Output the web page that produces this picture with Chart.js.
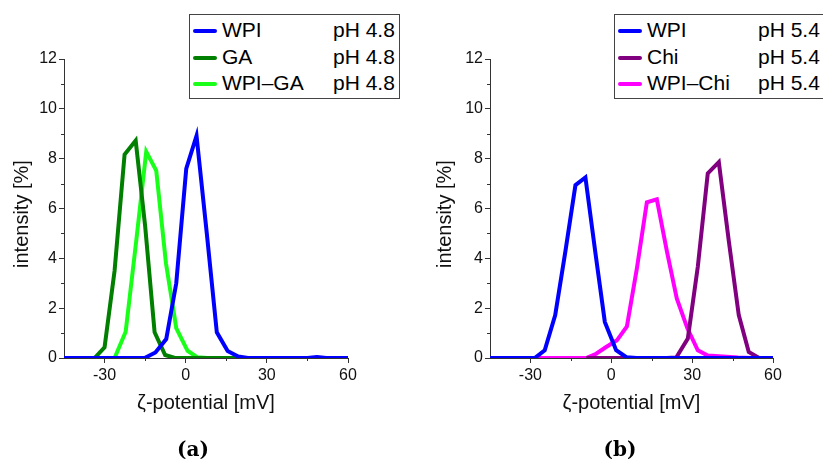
<!DOCTYPE html>
<html>
<head>
<meta charset="utf-8">
<script src="https://cdn.jsdelivr.net/npm/chart.js@4"></script>
<style>
    body { margin: 0; background: #fff; overflow: hidden; }
    #page { position: relative; width: 823px; height: 459px; overflow: hidden; font-family: "Liberation Sans", Arial, sans-serif; }
    canvas { position: absolute; top: 0; }
    .legend { position: absolute; top: 14px; width: 209px; height: 81px; border: 1px solid #444; background: #fff; padding-top: 2px; box-sizing: content-box; }
    .row { position: relative; height: 26.5px; line-height: 26.5px; font-size: 21px; color: #000; }
    .row .swatch { position: absolute; left: 3px; top: 12px; width: 24px; height: 4px; border-radius: 2px; }
    .row .name { position: absolute; left: 32px; }
    .row .ph { position: absolute; left: 143px; }
    .caption { position: absolute; top: 437px; width: 80px; text-align: center; font-family: "DejaVu Serif", serif; font-weight: bold; font-size: 20px; color: #000; }
</style>
</head>
<body>
<div id="page">
    <canvas id="chartA" width="410" height="459" style="left:0px"></canvas>
    <canvas id="chartB" width="413" height="459" style="left:410px"></canvas>
    <div class="legend" id="legendA" style="left:189px"></div>
    <div class="legend" id="legendB" style="left:614px"></div>
    <div class="caption" style="left:153px">(a)</div>
    <div class="caption" style="left:580px">(b)</div>
</div>
<script>

// tick values shared by both panels
var xTicks = [-30, 0, 30, 60];
var yTicks = [0, 2, 4, 6, 8, 10, 12];
var xMinor = [-15, 15, 45];
var yMinor = [1, 3, 5, 7, 9, 11];

// panel (a), pH 4.8
var wpiA_x = [-45, -15.2, -11.2, -7.2, -3.5, 0.2, 4.0, 7.8, 11.5, 15.5, 19.4, 23, 45, 48.5, 52, 60];
var wpiA_y = [0, 0, 0.22, 0.76, 3.0, 7.6, 8.92, 5.0, 1.03, 0.28, 0.06, 0, 0, 0.04, 0, 0];
var gaA_x = [-33.7, -30, -26.3, -22.6, -18.5, -15, -11.5, -7.6, -4, 20];
var gaA_y = [0, 0.43, 3.5, 8.17, 8.73, 5.3, 1.03, 0.12, 0, 0];
var wpigaA_x = [-26.3, -22.2, -18.4, -14.6, -10.9, -7.3, -3.5, 0.7, 4.2, 8];
var wpigaA_y = [0, 1.05, 4.6, 8.28, 7.52, 3.8, 1.2, 0.29, 0.03, 0];

// panel (b), pH 5.4
var wpiB_x = [-45, -28.4, -24.7, -20.8, -17.0, -13.3, -9.6, -6.0, -2.4, 1.8, 5.6, 9.4, 60];
var wpiB_y = [0, 0, 0.31, 1.72, 4.3, 6.94, 7.25, 4.3, 1.45, 0.31, 0.03, 0, 0];
var chiB_x = [-9.3, 20.4, 24.1, 28.4, 32.1, 35.8, 39.9, 43.6, 47.3, 51.0, 54.7];
var chiB_y = [0, 0, 0.02, 0.78, 3.66, 7.41, 7.86, 4.7, 1.72, 0.24, 0.01];
var wpichiB_x = [-27.2, -9.3, -5.6, -1.9, 2.1, 5.8, 9.5, 13.2, 16.9, 20.6, 24.3, 28.2, 32.1, 35.8, 47, 52];
var wpichiB_y = [0, 0, 0.17, 0.44, 0.71, 1.27, 3.6, 6.25, 6.37, 4.3, 2.39, 1.2, 0.31, 0.1, 0.02, 0];

var namesA = ["WPI", "GA", "WPI\u2013GA"];
var namesB = ["WPI", "Chi", "WPI\u2013Chi"];
var phA = "pH 4.8";
var phB = "pH 5.4";

var colorsA = ["#0000ff", "#007f00", "#1aff1a"];
var colorsB = ["#0000ff", "#800080", "#ff00ff"];

var axisColor = "#333";
var fontFamily = "'Liberation Sans', Arial, sans-serif";


function points(xs, ys) {
    var out = [];
    for (var i = 0; i < xs.length; i++) {
        out.push({x: xs[i], y: ys[i]});
    }
    return out;
}

// short ticks between the labelled ones
var minorTicks = {
    id: "minorTicks",
    afterDraw: function(chart) {
        var ctx = chart.ctx;
        var xs = chart.scales.x, ys = chart.scales.y;
        ctx.save();
        ctx.strokeStyle = axisColor;
        ctx.lineWidth = 1;
        ctx.beginPath();
        xMinor.forEach(function(v) {
            var px = Math.round(xs.getPixelForValue(v)) + 0.5;
            ctx.moveTo(px, ys.bottom);
            ctx.lineTo(px, ys.bottom + 3);
        });
        yMinor.forEach(function(v) {
            var py = Math.round(ys.getPixelForValue(v)) + 0.5;
            ctx.moveTo(xs.left, py);
            ctx.lineTo(xs.left - 3, py);
        });
        ctx.stroke();
        ctx.restore();
    }
};

function makeChart(id, series, colors, names, yWidth, padRight, titlePad) {
    var datasets = [];
    for (var i = 0; i < series.length; i++) {
        datasets.push({
            label: names[i],
            data: points(series[i][0], series[i][1]),
            borderColor: colors[i],
            backgroundColor: colors[i],
            borderWidth: 4,
            pointRadius: 0,
            showLine: true,
            tension: 0,
            borderJoinStyle: "miter"
        });
    }

    return new Chart(document.getElementById(id).getContext("2d"), {
        type: "scatter",
        data: { datasets: datasets },
        plugins: [minorTicks],
        options: {
            responsive: false,
            animation: false,
            layout: { padding: { left: 0, right: padRight, top: 59, bottom: 41 } },
            plugins: { legend: { display: false }, tooltip: { enabled: false } },
            scales: {
                x: {
                    type: "linear",
                    min: -45,
                    max: 60,
                    afterBuildTicks: function(s) { s.ticks = xTicks.map(function(v) { return {value: v}; }); },
                    afterFit: function(s) { s.height = 60; },
                    grid: { drawOnChartArea: false, tickLength: 5, color: axisColor },
                    border: { display: true, color: axisColor, width: 1 },
                    ticks: { color: "#111", padding: 3, font: { family: fontFamily, size: 16 } },
                    title: { display: true, text: "\u03b6-potential [mV]", color: "#111", padding: { top: 0, bottom: 3 }, font: { family: fontFamily, size: 20 } }
                },
                y: {
                    type: "linear",
                    min: 0,
                    max: 12,
                    afterBuildTicks: function(s) { s.ticks = yTicks.map(function(v) { return {value: v}; }); },
                    afterFit: function(s) { s.width = yWidth; },
                    grid: { drawOnChartArea: false, tickLength: 5, color: axisColor },
                    border: { display: true, color: axisColor, width: 1 },
                    ticks: { color: "#111", padding: 2, font: { family: fontFamily, size: 16 } },
                    // trailing spaces nudge the rotated title down a little, as in the original
                    title: { display: true, text: "intensity [%]  ", color: "#111", padding: { top: titlePad, bottom: 0 }, font: { family: fontFamily, size: 20 } }
                }
            }
        }
    });
}

function makeLegend(id, names, colors, ph) {
    var box = document.getElementById(id);
    for (var i = 0; i < names.length; i++) {
        var row = document.createElement("div");
        row.className = "row";
        row.innerHTML = '<span class="swatch" style="background:' + colors[i] + '"></span>' +
            '<span class="name">' + names[i] + '</span><span class="ph">' + ph + '</span>';
        box.appendChild(row);
    }
}

document.addEventListener("DOMContentLoaded", function() {
    makeChart("chartA", [[wpiA_x, wpiA_y], [gaA_x, gaA_y], [wpigaA_x, wpigaA_y]], colorsA, namesA, 64, 62, 10);
    makeChart("chartB", [[wpiB_x, wpiB_y], [chiB_x, chiB_y], [wpichiB_x, wpichiB_y]], colorsB, namesB, 80, 50, 23);
    makeLegend("legendA", namesA, colorsA, phA);
    makeLegend("legendB", namesB, colorsB, phB);
});
</script>
</body>
</html>
